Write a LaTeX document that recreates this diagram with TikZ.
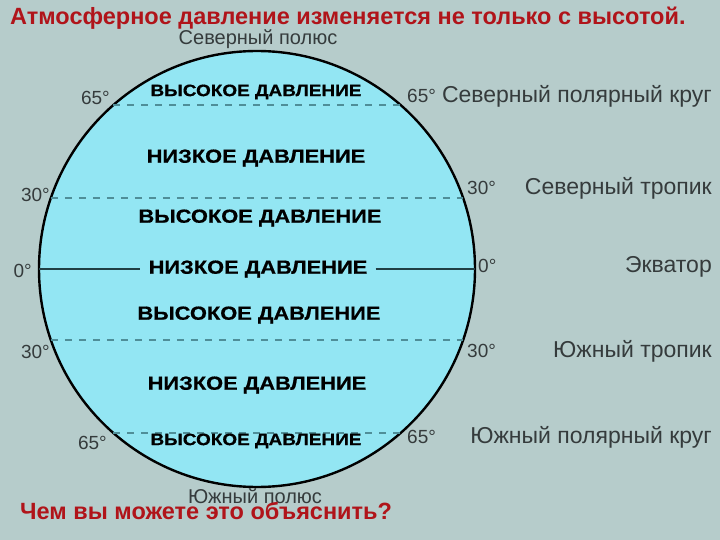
\documentclass[tikz,border=0pt]{standalone}
\usepackage{fontspec}
\setmainfont{Liberation Sans}
\newfontfamily\widesans[FakeStretch=1.15,FakeBold=0.6]{Liberation Sans}
\usetikzlibrary{positioning}
\definecolor{BG}{HTML}{B6CCCB}
\definecolor{EA}{HTML}{93E6F3}
\definecolor{RD}{HTML}{B0141A}
\definecolor{GR}{HTML}{353B3C}
\definecolor{DS}{HTML}{4F8E98}
\definecolor{EQ}{HTML}{203F44}
\tikzset{
  globe/.style={circle, draw=black, fill=EA, line width=2.4pt,
    minimum size=436pt, inner sep=0pt, outer sep=0pt},
  parallel/.style={DS, line width=1.4pt, dash pattern=on 7pt off 7pt},
  equator/.style={EQ, line width=1.8pt},
  band/.style={font=\widesans\bfseries\fontsize{19}{19}\selectfont, text=black, inner sep=1pt},
  smallband/.style={band, font=\widesans\bfseries\fontsize{16.5}{16.5}\selectfont},
  deg/.style={font=\fontsize{19}{19}\selectfont, text=GR, inner sep=0pt},
  zone/.style={font=\fontsize{23}{23}\selectfont, text=GR, inner sep=0pt, anchor=base east},
  pole/.style={font=\fontsize{20}{20}\selectfont, text=GR, inner sep=0pt, anchor=base},
  headline/.style={font=\bfseries\fontsize{23.5}{23.5}\selectfont, text=RD, inner sep=0pt, anchor=base west}
}
\begin{document}
\begin{tikzpicture}[x=1pt,y=-1pt]
  \useasboundingbox (0,0) rectangle (720,540);
  \fill[BG] (0,0) rectangle (720,540);
  % globe and parallels
  \node[globe] (earth) at (257,269) {};
  \foreach \a in {48.8,19,-19,-48.8}{
    \pgfmathsetmacro{\hw}{218*cos(\a)}
    \pgfmathsetmacro{\yy}{269-218*sin(\a)}
    \draw[parallel] (257-\hw,\yy) -- (257+\hw,\yy);
  }
  % pressure belts
  \node[smallband] (nhigh) at (256,92) {ВЫСОКОЕ ДАВЛЕНИЕ};
  \node[band] (nlow) at (256,158) {НИЗКОЕ ДАВЛЕНИЕ};
  \node[band] (thigh) at (260,218) {ВЫСОКОЕ ДАВЛЕНИЕ};
  \node[band, inner xsep=8pt] (eqlow) at (258,269) {НИЗКОЕ ДАВЛЕНИЕ};
  \node[band] (shigh) at (259,315) {ВЫСОКОЕ ДАВЛЕНИЕ};
  \node[band] (slow) at (257,385) {НИЗКОЕ ДАВЛЕНИЕ};
  \node[smallband] (phigh) at (256,441) {ВЫСОКОЕ ДАВЛЕНИЕ};
  \draw[equator] (earth.west) -- (eqlow.west);
  \draw[equator] (eqlow.east) -- (earth.east);
  % latitudes
  \node[deg, anchor=base east] (wn65) at (110,105) {65°};
  \node[deg, anchor=base east] (wn30) at (50,202) {30°};
  \node[deg, anchor=base east] (weq) at (32,277) {0°};
  \node[deg, anchor=base east] (ws30) at (50,358) {30°};
  \node[deg, anchor=base east] (ws65) at (107,449) {65°};
  \node[deg, anchor=base west] (en65) at (407,103) {65°};
  \node[deg, anchor=base west] (en30) at (467,195) {30°};
  \node[deg, anchor=base west] (eeq) at (478,272) {0°};
  \node[deg, anchor=base west] (es30) at (467,357) {30°};
  \node[deg, anchor=base west] (es65) at (407,443) {65°};
  % zone names
  \node[zone] (arctic) at (712,103) {Северный полярный круг};
  \node[zone] (cancer) at (712,195) {Северный тропик};
  \node[zone] (equat) at (712,272) {Экватор};
  \node[zone] (capric) at (712,357) {Южный тропик};
  \node[zone] (antarc) at (712,443) {Южный полярный круг};
  % poles
  \node[pole] (npole) at (258,45) {Северный полюс};
  \node[pole] (spole) at (255,503) {Южный полюс};
  % headings
  \node[headline] (title) at (10,25) {Атмосферное давление изменяется не только с высотой.};
  \node[headline] (question) at (20,519) {Чем вы можете это объяснить?};
\end{tikzpicture}
\end{document}
